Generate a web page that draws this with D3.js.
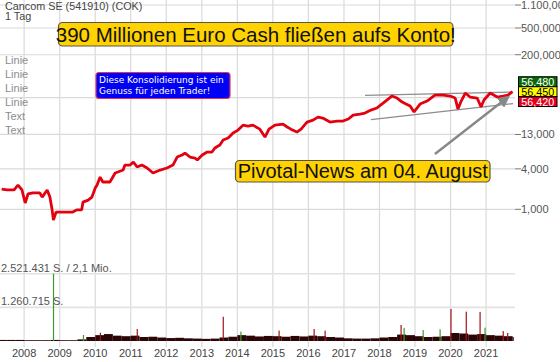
<!DOCTYPE html>
<html>
<head>
<meta charset="utf-8">
<script src="https://cdn.jsdelivr.net/npm/d3@7"></script>
<style>
body { margin: 0; background: #fff; }
svg { display: block; font-family: "Liberation Sans", Arial, sans-serif; }
</style>
</head>
<body>
<svg></svg>
<script>
// Size of the picture
const width = 560,
    height = 362;

// price series (EUR)
const priceDates = [
    "2007-05-15", "2007-07-10", "2007-09-20", "2007-10-30", "2007-12-10",
    "2008-01-12", "2008-02-10", "2008-04-01", "2008-06-10", "2008-07-05", "2008-08-25", "2008-09-22",
    "2008-10-15", "2008-10-28", "2008-11-25",
    "2009-01-05", "2009-03-25", "2009-05-15", "2009-06-25", "2009-08-15", "2009-08-28", "2009-10-20", "2009-11-28",
    "2010-01-01", "2010-01-20", "2010-02-20", "2010-03-20", "2010-06-01", "2010-06-25", "2010-07-25", "2010-08-22",
    "2010-10-15", "2010-11-02", "2010-12-25",
    "2011-01-28", "2011-03-08", "2011-04-25", "2011-06-18", "2011-08-18", "2011-10-30",
    "2012-01-08", "2012-03-10", "2012-04-22", "2012-06-12", "2012-07-12", "2012-09-01", "2012-10-22", "2012-11-15",
    "2013-01-05", "2013-02-25", "2013-04-15", "2013-05-15", "2013-07-05", "2013-08-08", "2013-09-28", "2013-11-18",
    "2014-01-08", "2014-02-28", "2014-04-20", "2014-06-10", "2014-08-20", "2014-10-12", "2014-11-22",
    "2015-01-22", "2015-04-15", "2015-05-28", "2015-07-05", "2015-09-05", "2015-10-18", "2015-12-18",
    "2016-02-18", "2016-04-08", "2016-05-28", "2016-08-10", "2016-10-22", "2016-12-22",
    "2017-02-15", "2017-04-05", "2017-06-15", "2017-08-05", "2017-10-05", "2017-12-05",
    "2018-01-25", "2018-03-18", "2018-05-08", "2018-06-30", "2018-08-22", "2018-10-01", "2018-11-12", "2018-12-22",
    "2019-02-22", "2019-05-05", "2019-07-25", "2019-10-18", "2019-12-28",
    "2020-02-18", "2020-03-18", "2020-04-20", "2020-06-01", "2020-07-20", "2020-10-01", "2020-11-10", "2020-12-10",
    "2021-02-12", "2021-04-25", "2021-06-25", "2021-08-15", "2021-09-28"
];
const priceValues = [
    2.0, 1.94, 1.94, 2.30, 1.94,
    1.24, 1.69, 1.75, 1.75, 1.52, 1.94, 1.52,
    0.98, 0.69, 0.91,
    0.91, 0.91, 0.91, 0.98, 0.98, 1.28, 1.37, 1.52,
    2.07, 2.30, 3.02, 2.55, 2.55, 2.92, 3.47, 3.59,
    3.84, 4.56, 4.56,
    5.06, 4.26, 4.56, 4.12, 3.47, 3.84,
    4.12, 4.56, 6.0, 6.43, 6.88, 6.0, 5.8, 5.42,
    6.43, 7.12, 7.12, 8.17, 9.05, 10.75, 11.5, 13.7,
    15.1, 17.9, 17.3, 17.9, 15.6, 11.9, 15.6,
    17.9, 18.5, 16.8, 15.6, 14.1, 15.6, 19.9,
    21.3, 23.6, 22.8, 19.9, 20.6, 20.6,
    22.1, 25.3, 26.2, 27.1, 30.0, 32.2,
    36.9, 42.3, 48.5, 45.3, 39.5, 36.9, 34.4, 28.1,
    36.9, 40.9, 50.2, 50.2, 48.5,
    45.3, 31.1, 40.9, 53.8, 46.9, 45.3, 33.3, 42.3,
    53.8, 46.9, 48.5, 50.2, 56.45
];

// y axis (log)
const yTicks = [1, 4, 13, 46, 200, 500, 1100];
const yTickLabels = ["1,000", "4,000", "13,000", "", "200,000", "500,000", "1.100,000"];
const years = [2008, 2009, 2010, 2011, 2012, 2013, 2014, 2015, 2016, 2017, 2018, 2019, 2020, 2021];

// volume: quarterly base level (shares) from Q2 2007, plus single spikes
const volBase = [
    40000, 40000, 40000,
    30000, 30000, 30000, 40000,
    30000, 30000, 60000, 150000,
    220000, 260000, 200000, 180000,
    200000, 150000, 160000, 130000,
    110000, 120000, 100000, 90000,
    80000, 90000, 130000, 160000,
    220000, 200000, 170000, 190000,
    180000, 160000, 190000, 170000,
    200000, 180000, 150000, 130000,
    100000, 90000, 90000, 100000,
    130000, 150000, 240000, 220000,
    180000, 150000, 160000, 180000,
    300000, 280000, 240000, 260000,
    220000, 200000, 180000, 150000
];
const spikeDates = ["2008-10-28", "2009-09-01", "2010-02-22", "2011-03-08", "2013-08-08", "2014-02-05",
    "2015-03-05", "2016-02-28", "2016-06-20", "2018-08-10", "2018-09-10", "2019-03-25", "2019-09-15",
    "2020-01-05", "2020-06-10", "2020-10-30", "2020-12-20", "2021-06-25", "2021-08-10"];
const spikeValues = [2521431, 225000, 310000, 450000, 910000, 350000,
    390000, 450000, 390000, 600000, 490000, 410000, 440000,
    1200000, 1100000, 1090000, 500000, 370000, 300000];
const spikeUp = [1, 1, 0, 0, 0, 1, 0, 0, 0, 0, 1, 1, 1, 0, 0, 0, 1, 0, 0];
const volMax = 2521431;
const volLabels = ["2.521.431 S. / 2,1 Mio.", "1.260.715 S."];

// last quotes
const badgeValues = [56.48, 56.45, 56.42];
const badgeLabels = ["56,480", "56,450", "56,420"];

// legend entries and texts
const legendItems = ["Linie", "Linie", "Linie", "Linie", "Text", "Text"];
const headline = "390 Millionen Euro Cash fließen aufs Konto!";
const pivotal = "Pivotal-News am 04. August";
const note = ["Diese Konsolidierung ist ein", "Genuss für jeden Trader!"];

// trend channel and arrow (date, value)
const channel = [
    [["2017-08-05", 49.7], ["2021-10-05", 55.7]],
    [["2017-10-05", 21.7], ["2021-10-05", 37.5]]
];
const arrowFrom = ["2019-07-25", 6.65],
    arrowTo = ["2021-08-15", 46.9];

const parse = d3.timeParse("%Y-%m-%d");
const plotRight = 515;

const x = d3.scaleTime()
    .domain([new Date(2007, 3, 28), new Date(2021, 9, 25)])
    .range([0, plotRight]);
const y = d3.scaleLog()
    .domain([1, 1100])
    .range([209.3, 5]);
const yVol = d3.scaleLinear()
    .domain([0, volMax])
    .range([341, 273.7]);

const svg = d3.select("svg")
    .attr("width", width)
    .attr("height", height);

const grid = "#dadada";

// vertical year grid
svg.selectAll(".vgrid")
    .data(years)
    .enter()
    .append("line")
    .attr("x1", d => x(new Date(d, 0, 1)))
    .attr("x2", d => x(new Date(d, 0, 1)))
    .attr("y1", 0)
    .attr("y2", 347)
    .attr("stroke", grid)
    .attr("stroke-width", 1.2);

// horizontal price grid
svg.selectAll(".hgrid")
    .data(yTicks)
    .enter()
    .append("line")
    .attr("x1", 0)
    .attr("x2", plotRight)
    .attr("y1", d => y(d))
    .attr("y2", d => y(d))
    .attr("stroke", grid)
    .attr("stroke-width", 1.2);

// volume grid
svg.selectAll(".volgrid")
    .data([volMax, volMax / 2])
    .enter()
    .append("line")
    .attr("x1", 0)
    .attr("x2", plotRight)
    .attr("y1", d => yVol(d))
    .attr("y2", d => yVol(d))
    .attr("stroke", "#e2e2e2")
    .attr("stroke-width", 1.6);

// right axis labels
svg.selectAll(".ylab")
    .data(yTicks.map((d, i) => ({ v: d, label: yTickLabels[i] })).filter(d => d.label))
    .enter()
    .append("g")
    .each(function(d) {
        const g = d3.select(this);
        g.append("line")
            .attr("x1", plotRight).attr("x2", 521)
            .attr("y1", y(d.v)).attr("y2", y(d.v))
            .attr("stroke", "#777");
        g.append("text")
            .attr("x", 521)
            .attr("y", y(d.v))
            .attr("dy", "0.36em")
            .attr("font-size", 11)
            .attr("fill", "#555")
            .text(d.label);
    });

// year labels
svg.selectAll(".xlab")
    .data(years)
    .enter()
    .append("text")
    .attr("x", d => x(new Date(d, 0, 1)))
    .attr("y", 357)
    .attr("text-anchor", "middle")
    .attr("font-size", 11)
    .attr("fill", "#444")
    .text(d => d);

// volume base (quarters)
const dataEnd = parse("2021-10-12");
const quarters = d3.timeMonth.range(new Date(2007, 3, 1), new Date(2021, 10, 1), 3);
svg.selectAll(".vbase")
    .data(volBase)
    .enter()
    .append("rect")
    .attr("x", (d, i) => x(quarters[i]))
    .attr("width", (d, i) => x(d3.min([d3.timeMonth.offset(quarters[i], 3), dataEnd])) - x(quarters[i]))
    .attr("y", d => yVol(d))
    .attr("height", d => yVol(0) - yVol(d))
    .attr("fill", "#2c0606");

svg.selectAll(".spike")
    .data(spikeValues)
    .enter()
    .append("rect")
    .attr("x", (d, i) => x(parse(spikeDates[i])) - 0.5)
    .attr("width", 1.2)
    .attr("y", d => yVol(d))
    .attr("height", d => yVol(0) - yVol(d))
    .attr("fill", (d, i) => spikeUp[i] ? "#3f9a2c" : "#a3141a");

// volume labels
svg.selectAll(".vlab")
    .data([volMax, volMax / 2])
    .enter()
    .append("text")
    .attr("x", 1)
    .attr("y", d => yVol(d) - 2)
    .attr("font-size", 11)
    .attr("fill", "#555")
    .text((d, i) => volLabels[i]);

// trend channel
const linePt = d3.line()
    .x(d => x(parse(d[0])))
    .y(d => y(d[1]));
svg.selectAll(".channel")
    .data(channel)
    .enter()
    .append("path")
    .attr("d", linePt)
    .attr("fill", "none")
    .attr("stroke", "#8c8c8c")
    .attr("stroke-width", 1.3);

// price line
const priceLine = d3.line()
    .x((d, i) => x(parse(priceDates[i])))
    .y(d => y(d));
svg.append("path")
    .datum(priceValues)
    .attr("d", priceLine)
    .attr("fill", "none")
    .attr("stroke", "#e3000f")
    .attr("stroke-width", 2.8)
    .attr("stroke-linejoin", "bevel");

// arrow
svg.append("defs").append("marker")
    .attr("id", "head")
    .attr("viewBox", "0 0 10 10")
    .attr("refX", 8).attr("refY", 5)
    .attr("markerWidth", 5).attr("markerHeight", 5)
    .attr("orient", "auto")
    .append("path")
    .attr("d", "M0,0L10,5L0,10z")
    .attr("fill", "#888");
svg.append("path")
    .datum([arrowFrom, arrowTo])
    .attr("d", linePt)
    .attr("stroke", "#888")
    .attr("stroke-width", 2.4)
    .attr("marker-end", "url(#head)");

// legend entries
svg.selectAll(".legend")
    .data(legendItems)
    .enter()
    .append("text")
    .attr("x", 5)
    .attr("y", (d, i) => 64.3 + i * 13.9)
    .attr("font-size", 11)
    .attr("fill", "#8c8c8c")
    .text(d => d);

// header
svg.append("text").attr("x", 5).attr("y", 10)
    .attr("font-size", 10.8).attr("fill", "#444")
    .text("Cancom SE (541910) (COK)");
svg.append("text").attr("x", 5).attr("y", 20)
    .attr("font-size", 10.8).attr("fill", "#444")
    .text("1 Tag");

// yellow callouts
function callout(x0, y0, w, h, text, size, baseline) {
    svg.append("rect")
        .attr("x", x0).attr("y", y0)
        .attr("width", w).attr("height", h)
        .attr("rx", 4)
        .attr("fill", "#ffd200")
        .attr("stroke", "#555")
        .attr("stroke-width", 1.2);
    svg.append("text")
        .attr("x", x0 + w / 2).attr("y", baseline)
        .attr("text-anchor", "middle")
        .attr("font-size", size)
        .attr("fill", "#111")
        .text(text);
}
callout(58.5, 22.5, 394.5, 23.5, headline, 20.5, 41.5);
callout(235.5, 160.5, 254.5, 21.5, pivotal, 20, 177.5);

// blue note
svg.append("rect")
    .attr("x", 96).attr("y", 72.5)
    .attr("width", 134).attr("height", 26)
    .attr("rx", 3)
    .attr("fill", "#0000f5")
    .attr("stroke", "#e8305a")
    .attr("stroke-width", 1.2);
svg.selectAll(".note")
    .data(note)
    .enter()
    .append("text")
    .attr("x", 99)
    .attr("y", (d, i) => 82.5 + i * 11.6)
    .attr("font-family", "DejaVu Sans, Verdana, sans-serif")
    .attr("font-size", 9)
    .attr("fill", "#fff")
    .text(d => d);

// quote badges
const badgeFill = ["#0a6a0a", "#ffff00", "#e6001e"];
const badgeText = ["#fff", "#000", "#fff"];
const mid = y(badgeValues[1]);
svg.selectAll(".badge")
    .data(badgeValues)
    .enter()
    .append("g")
    .each(function(d, i) {
        const cy = mid + (i - 1) * 10;
        const g = d3.select(this);
        g.append("rect")
            .attr("x", 518.5).attr("y", cy - 4.9)
            .attr("width", 38.5).attr("height", 9.8)
            .attr("fill", badgeFill[i])
            .attr("stroke", "#000")
            .attr("stroke-width", 1);
        g.append("text")
            .attr("x", 537.7).attr("y", cy)
            .attr("dy", "0.36em")
            .attr("text-anchor", "middle")
            .attr("font-size", 10.8)
            .attr("fill", badgeText[i])
            .text(badgeLabels[i]);
    });
</script>
</body>
</html>
